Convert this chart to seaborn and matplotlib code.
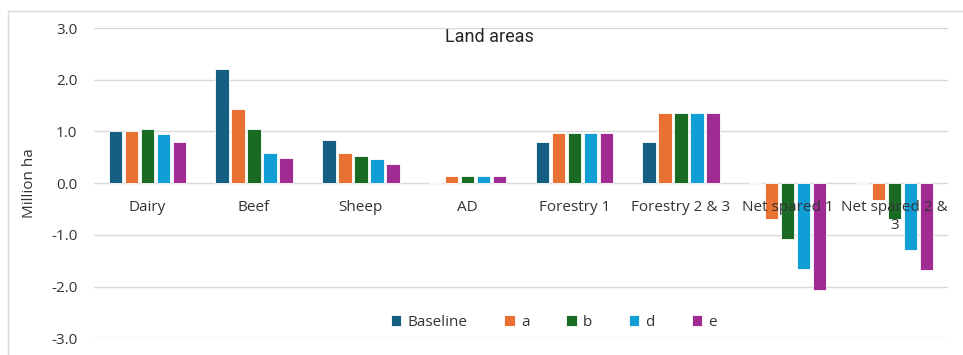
"""Land areas bar chart (grouped bars per category, five scenarios)."""

import pandas as pd
import matplotlib
matplotlib.use("Agg")
import matplotlib.pyplot as plt
import matplotlib.patches as mpatches
import seaborn as sns

categories = ["Dairy", "Beef", "Sheep", "AD", "Forestry 1", "Forestry 2 & 3",
              "Net spared 1", "Net spared 2 &\n3"]
scenarios = ["Baseline", "a", "b", "d", "e"]

baseline = [1.00, 2.20, 0.83, 0.00, 0.79, 0.79, 0.00, 0.00]
scen_a = [1.00, 1.43, 0.58, 0.13, 0.98, 1.35, -0.70, -0.32]
scen_b = [1.05, 1.05, 0.52, 0.13, 0.98, 1.35, -1.07, -0.69]
scen_d = [0.96, 0.59, 0.46, 0.13, 0.98, 1.35, -1.66, -1.30]
scen_e = [0.79, 0.48, 0.37, 0.13, 0.98, 1.35, -2.06, -1.68]

palette = ["#156082", "#E97132", "#196B24", "#0F9ED5", "#A02B93"]

# tabla larga para seaborn
rows = []
for name, vals in zip(scenarios, [baseline, scen_a, scen_b, scen_d, scen_e]):
    for cat, v in zip(categories, vals):
        rows.append({"category": cat, "scenario": name, "value": v})
df = pd.DataFrame(rows)

sns.set_style("white")
plt.rcParams["font.family"] = ["Open Sans", "DejaVu Sans"]
txt = "#333333"

fig = plt.figure(figsize=(9.63, 3.55), dpi=100)
ax = fig.add_axes([0.0976, 0.047, 0.8866, 0.874])

sns.barplot(data=df, x="category", y="value", hue="scenario", order=categories,
            hue_order=scenarios, palette=palette, saturation=1, width=0.75,
            gap=0.16, edgecolor="white", linewidth=0.6, ax=ax, legend=False,
            zorder=3)

ax.set_ylim(-3, 3)
ax.set_yticks([-3, -2, -1, 0, 1, 2, 3])
ax.set_yticklabels([f"{t:.1f}" for t in [-3, -2, -1, 0, 1, 2, 3]],
                   fontsize=11, color=txt)
ax.set_xlim(-0.5, len(categories) - 0.5)
ax.grid(axis="y", color="#d9d9d9", linewidth=1.0, zorder=0)
for s in ax.spines.values():
    s.set_visible(False)

# etiquetas de categoría junto al eje cero, por encima de las barras
ax.spines["bottom"].set_position(("data", 0))
ax.xaxis.set_zorder(5)
ax.tick_params(axis="x", length=0, pad=12, labelsize=11, labelcolor=txt)
ax.tick_params(axis="y", length=0, pad=12)
for lab in ax.get_xticklabels():
    lab.set_verticalalignment("top")
    lab.set_linespacing(1.3)

ax.set_xlabel("")
ax.set_ylabel("Million ha", fontsize=11, color=txt, labelpad=10)

fig.text(0.508, 0.895, "Land areas", fontsize=13, color="#262626",
         family=["Roboto", "DejaVu Sans"], ha="center", va="center")

handles = [mpatches.Patch(facecolor=c, edgecolor="white", linewidth=0.6, label=n)
           for c, n in zip(palette, scenarios)]
fig.legend(handles=handles, loc="center", bbox_to_anchor=(0.575, 0.092), ncol=5,
           frameon=False, fontsize=11, handlelength=0.7, handleheight=0.7,
           handletextpad=0.4, columnspacing=2.4, labelcolor=txt)

# marco exterior del gráfico
fig.patches.append(mpatches.Rectangle((8 / 963, -0.1), 1.0, 1 - 11 / 355 + 0.1,
                                      transform=fig.transFigure, fill=False,
                                      edgecolor="#d9d9d9", linewidth=1.0))

fig.savefig("out.png", dpi=100, facecolor="white")
plt.close(fig)
